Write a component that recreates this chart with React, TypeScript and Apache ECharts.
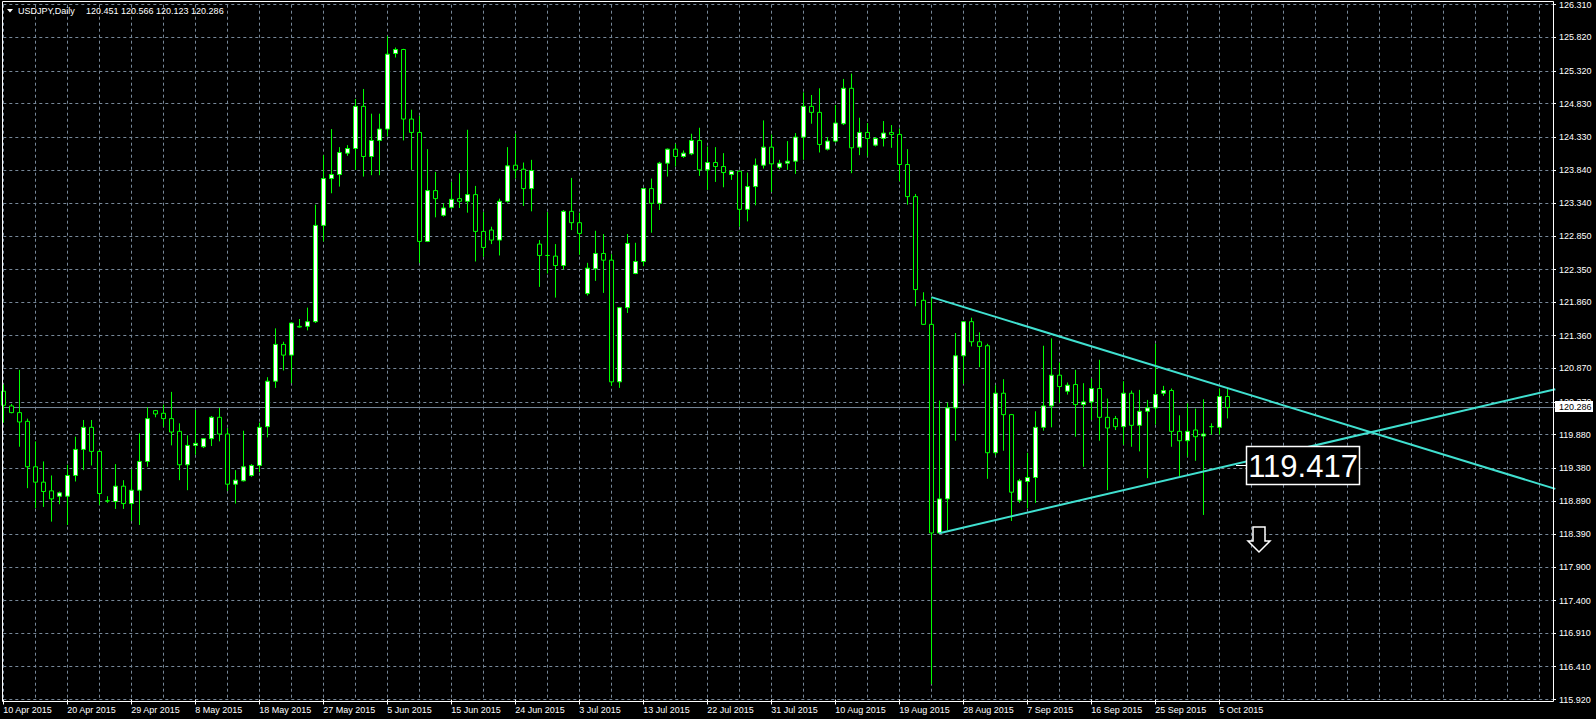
import React, { useEffect, useRef } from "react";
import * as echarts from "echarts";

// ---------- data ----------
const SYMBOL = "USDJPY,Daily";
const HEADER_OHLC = "120.451 120.566 120.123 120.286";
const FIRST_DATE = [2015, 3, 10]; // 10 Apr 2015 (bars Sun–Fri)
const SLOT_COUNT = 195; // bars + empty space to the right
const LAST_BAR = 153;

const OPEN = [
  120.53, 120.31, 120.21, 120.08, 119.40, 119.17, 119.04, 118.96, 118.96, 119.27,
  119.66, 119.99, 119.63, 118.89, 118.88, 119.11, 118.85, 119.05, 119.48, 120.24,
  120.20, 120.12, 119.93, 119.43, 119.72, 119.70, 119.82, 120.14, 119.89, 119.14,
  119.19, 119.27, 119.42, 120.00, 120.68, 121.23, 121.07, 121.50, 121.50, 121.57,
  123.01, 123.71, 123.77, 124.09, 124.16, 124.79, 124.04, 124.28, 124.45, 125.58,
  125.64, 124.60, 124.40, 122.77, 123.53, 123.16, 123.28, 123.41, 123.37, 123.47,
  122.92, 122.94, 122.79, 123.37, 123.91, 123.85, 123.56, 122.73, 122.56, 122.55,
  122.41, 123.22, 123.05, 121.99, 122.36, 122.59, 122.49, 120.67, 121.78, 122.29,
  122.47, 123.56, 123.34, 123.94, 124.15, 124.04, 124.08, 124.28, 123.84, 123.95,
  123.89, 123.77, 123.82, 123.25, 123.59, 123.91, 124.18, 123.88, 123.94, 123.97,
  124.33, 124.79, 124.70, 124.15, 124.27, 124.53, 125.06, 124.18, 124.40, 124.21,
  124.31, 124.40, 124.37, 123.92, 123.44, 121.89, 121.53, 118.41, 118.92, 120.28,
  121.06, 121.57, 121.27, 121.21, 119.61, 120.50, 120.18, 118.90, 119.18, 119.24,
  119.99, 120.31, 120.77, 120.53, 120.63, 120.33, 120.37, 120.57, 120.14, 120.12,
  120.00, 120.50, 120.02, 120.23, 120.28, 120.50, 120.54, 119.93, 119.79, 119.95,
  119.86, 120.00, 119.99, 120.451,
];
const HIGH = [
  120.63, 120.34, 120.85, 120.12, 119.78, 119.48, 119.27, 119.03, 119.43, 119.85,
  120.10, 120.10, 119.65, 118.96, 119.44, 119.20, 119.36, 119.90, 120.29, 120.25,
  120.33, 120.52, 120.05, 119.87, 120.25, 119.83, 120.16, 120.28, 119.98, 119.35,
  119.94, 119.44, 120.06, 120.74, 121.47, 121.27, 121.56, 121.61, 121.78, 123.32,
  124.06, 124.45, 124.18, 124.21, 124.90, 125.05, 124.68, 124.68, 125.84, 125.67,
  125.65, 124.74, 124.65, 124.15, 123.81, 123.34, 123.66, 123.79, 124.44, 123.60,
  123.21, 122.99, 123.41, 124.18, 124.38, 123.95, 123.99, 122.79, 123.21, 122.73,
  123.24, 123.72, 123.20, 122.45, 122.93, 122.88, 122.58, 121.79, 122.88, 122.75,
  123.56, 123.71, 123.96, 124.16, 124.23, 124.13, 124.38, 124.47, 124.19, 124.18,
  124.09, 123.83, 123.83, 123.80, 124.01, 124.58, 124.37, 123.99, 124.27, 124.39,
  125.00, 124.96, 125.06, 124.33, 124.81, 125.20, 125.28, 124.62, 124.54, 124.33,
  124.57, 124.51, 124.46, 124.15, 123.48, 122.01, 121.93, 120.39, 120.36, 121.40,
  121.58, 121.63, 121.41, 121.24, 120.62, 120.71, 120.19, 119.22, 119.61, 120.23,
  121.21, 121.32, 120.96, 120.66, 120.85, 120.65, 120.72, 121.00, 120.42, 120.16,
  120.68, 120.54, 120.55, 120.40, 121.24, 120.61, 120.57, 120.17, 120.35, 120.27,
  120.41, 120.05, 120.57, 120.566,
];
const LOW = [
  120.06, 120.20, 119.70, 119.08, 118.78, 118.80, 118.58, 118.84, 118.53, 119.18,
  119.35, 119.42, 118.83, 118.86, 118.77, 118.77, 118.59, 118.53, 119.40, 120.14,
  120.00, 119.72, 119.20, 119.05, 119.58, 119.68, 119.71, 119.78, 119.04, 118.85,
  119.18, 119.25, 119.32, 119.84, 120.58, 120.84, 120.65, 121.48, 121.44, 121.55,
  122.77, 123.49, 123.59, 124.05, 123.84, 123.74, 123.76, 123.76, 124.34, 125.52,
  124.28, 123.84, 122.45, 122.76, 123.13, 123.14, 123.26, 123.27, 123.20, 122.47,
  122.54, 122.73, 122.56, 123.35, 123.71, 123.30, 123.22, 122.09, 122.29, 121.93,
  122.35, 122.94, 122.57, 121.96, 122.18, 122.00, 120.61, 120.58, 121.70, 122.28,
  122.40, 122.90, 123.24, 123.74, 123.89, 124.02, 124.06, 123.75, 123.54, 123.66,
  123.58, 123.69, 122.99, 123.07, 123.31, 123.86, 123.51, 123.85, 123.84, 123.78,
  123.99, 124.53, 124.10, 124.13, 124.25, 124.51, 123.79, 124.06, 124.04, 124.19,
  124.19, 124.17, 123.67, 123.32, 121.80, 121.52, 116.15, 118.40, 118.45, 119.79,
  120.64, 121.20, 120.89, 119.22, 119.57, 119.64, 118.59, 118.86, 118.78, 118.86,
  119.94, 119.99, 120.36, 120.48, 119.85, 119.40, 120.10, 119.79, 119.05, 119.95,
  119.73, 119.70, 119.63, 119.23, 120.03, 120.46, 119.70, 119.26, 119.55, 119.49,
  118.68, 119.88, 119.88, 120.123,
];
const CLOSE = [
  120.32, 120.21, 120.07, 119.40, 119.17, 119.03, 118.92, 119.01, 119.27, 119.66,
  119.99, 119.63, 119.00, 118.89, 119.11, 118.85, 119.05, 119.48, 120.12, 120.19,
  120.12, 119.92, 119.43, 119.72, 119.75, 119.82, 120.14, 119.89, 119.14, 119.20,
  119.40, 119.42, 119.99, 120.68, 121.23, 121.07, 121.55, 121.49, 121.57, 123.01,
  123.71, 123.77, 124.10, 124.16, 124.79, 124.04, 124.28, 124.45, 125.57, 125.64,
  124.60, 124.40, 122.77, 123.53, 123.41, 123.27, 123.40, 123.37, 123.47, 122.92,
  122.68, 122.79, 123.37, 123.90, 123.84, 123.56, 123.83, 122.56, 122.56, 122.41,
  123.22, 123.05, 122.89, 122.37, 122.59, 122.49, 120.67, 121.78, 122.74, 122.47,
  123.56, 123.34, 123.94, 124.15, 124.04, 124.09, 124.28, 123.84, 123.95, 123.89,
  123.80, 123.82, 123.25, 123.59, 123.91, 124.18, 123.93, 123.94, 123.97, 124.33,
  124.79, 124.70, 124.22, 124.27, 124.54, 125.06, 124.17, 124.40, 124.31, 124.31,
  124.39, 124.37, 123.92, 123.44, 122.05, 121.53, 118.41, 118.92, 120.28, 121.06,
  121.57, 121.27, 121.20, 119.61, 120.50, 120.18, 119.02, 119.19, 119.24, 119.99,
  120.31, 120.77, 120.60, 120.62, 120.33, 120.37, 120.57, 120.14, 119.98, 120.00,
  120.50, 120.02, 120.23, 120.28, 120.48, 120.54, 119.93, 119.79, 119.93, 119.85,
  119.89, 120.00, 120.45, 120.286,
];

const Y_TICKS = [
  115.92, 116.41, 116.91, 117.4, 117.9, 118.39, 118.89, 119.38, 119.88, 120.37, 120.87,
  121.36, 121.86, 122.35, 122.85, 123.34, 123.84, 124.33, 124.83, 125.32, 125.82, 126.31,
];
const Y_MIN = 115.92;
const Y_MAX = 126.31;
const BID = 120.286;
const TREND_DOWN = [[116, 121.937], [194, 119.07]];
const TREND_UP = [[117, 118.407], [194, 120.56]];
const PRICE_TAG = "119.417";

const MONTHS = ["Jan", "Feb", "Mar", "Apr", "May", "Jun", "Jul", "Aug", "Sep", "Oct", "Nov", "Dec"];

function buildDates(n: number): string[] {
  const out: string[] = [];
  const d = new Date(Date.UTC(FIRST_DATE[0], FIRST_DATE[1], FIRST_DATE[2]));
  while (out.length < n) {
    if (d.getUTCDay() !== 6) {
      out.push(`${d.getUTCDate()} ${MONTHS[d.getUTCMonth()]} ${d.getUTCFullYear()}`);
    }
    d.setUTCDate(d.getUTCDate() + 1);
  }
  return out;
}

const FONT = '"Liberation Sans", Arial, sans-serif';
const GRID_COLOR = "#778899";
const CANDLE_GREEN = "#00ff00";
const TREND_COLOR = "#40e0d0";

export default function App() {
  const ref = useRef<HTMLDivElement>(null);

  useEffect(() => {
    if (!ref.current) return;
    const chart = echarts.init(ref.current, undefined, { renderer: "svg" });
    const dates = buildDates(SLOT_COUNT);
    const candles = OPEN.map((o, i) => [o, CLOSE[i], LOW[i], HIGH[i]]);
    const showLabel = (i: number) => i % 8 === 0 && i <= LAST_BAR;

    const option: any = {
      animation: false,
      backgroundColor: "#000000",
      textStyle: { fontFamily: FONT },
      grid: { left: 3.3, top: 4.7, width: 1552, height: 694.8, containLabel: false },
      xAxis: {
        type: "category",
        data: dates,
        boundaryGap: false,
        axisLine: { show: false },
        axisTick: {
          show: true,
          interval: (i: number) => showLabel(i),
          length: 5,
          lineStyle: { color: "#ffffff", width: 1 },
        },
        axisLabel: {
          interval: (i: number) => showLabel(i),
          color: "#ffffff",
          fontSize: 9,
          fontFamily: FONT,
          align: "left",
          margin: 6,
        },
        splitLine: {
          show: true,
          interval: 3,
          lineStyle: { color: GRID_COLOR, width: 1, type: [3, 3] },
        },
      },
      yAxis: {
        type: "value",
        position: "right",
        min: Y_MIN,
        max: Y_MAX,
        offset: -2.3,
        axisLine: { show: false },
        axisTick: {
          show: true,
          customValues: Y_TICKS,
          length: 3,
          lineStyle: { color: "#ffffff", width: 1 },
        },
        axisLabel: {
          customValues: Y_TICKS,
          formatter: (v: number) => v.toFixed(3),
          color: "#ffffff",
          fontSize: 9,
          fontFamily: FONT,
          margin: 6,
        },
        splitLine: {
          show: true,
          lineStyle: { color: GRID_COLOR, width: 1, type: [3, 3] },
        },
      },
      series: [
        {
          type: "line",
          name: "bid",
          data: [[0, BID], [SLOT_COUNT - 1, BID]],
          symbol: "none",
          silent: true,
          z: 1,
          lineStyle: { color: GRID_COLOR, width: 1 },
        },
        {
          type: "candlestick",
          name: "USDJPY",
          data: candles,
          barWidth: 5,
          z: 3,
          itemStyle: {
            color: "#ffffff",
            color0: "#000000",
            borderColor: CANDLE_GREEN,
            borderColor0: CANDLE_GREEN,
            borderColorDoji: CANDLE_GREEN,
            borderWidth: 1,
          },
        },
        {
          type: "line",
          name: "down",
          data: TREND_DOWN,
          symbol: "none",
          silent: true,
          z: 5,
          lineStyle: { color: TREND_COLOR, width: 2 },
        },
        {
          type: "line",
          name: "up",
          data: TREND_UP,
          symbol: "none",
          silent: true,
          z: 5,
          lineStyle: { color: TREND_COLOR, width: 2 },
        },
      ],
      graphic: [
        {
          type: "rect",
          z: 100,
          silent: true,
          shape: { x: 2.5, y: 1.5, width: 1551, height: 700 },
          style: { fill: "none", stroke: "#ffffff", lineWidth: 1 },
        },
        {
          type: "polygon",
          z: 100,
          silent: true,
          shape: { points: [[7, 9], [13, 9], [10, 12.5]] },
          style: { fill: "#ffffff" },
        },
        {
          type: "text",
          z: 100,
          silent: true,
          x: 18,
          y: 11,
          style: { text: SYMBOL, fill: "#ffffff", font: `9px ${FONT}`, verticalAlign: "middle" },
        },
        {
          type: "text",
          z: 100,
          silent: true,
          x: 86,
          y: 11,
          style: { text: HEADER_OHLC, fill: "#ffffff", font: `9px ${FONT}`, verticalAlign: "middle" },
        },
        {
          type: "rect",
          z: 100,
          silent: true,
          shape: { x: 1555, y: 401, width: 38, height: 11 },
          style: { fill: "#ffffff" },
        },
        {
          type: "text",
          z: 101,
          silent: true,
          x: 1559,
          y: 406.5,
          style: { text: BID.toFixed(3), fill: "#000000", font: `9px ${FONT}`, verticalAlign: "middle" },
        },
        {
          type: "line",
          z: 100,
          silent: true,
          shape: { x1: 1236, y1: 465.5, x2: 1247, y2: 465.5 },
          style: { stroke: "#ffffff", lineWidth: 1 },
        },
        {
          type: "rect",
          z: 100,
          silent: true,
          shape: { x: 1246.5, y: 446.5, width: 113, height: 38 },
          style: { fill: "#000000", stroke: "#ffffff", lineWidth: 1.5 },
        },
        {
          type: "text",
          z: 101,
          silent: true,
          x: 1303,
          y: 466,
          style: {
            text: PRICE_TAG,
            fill: "#ffffff",
            font: `31px ${FONT}`,
            align: "center",
            verticalAlign: "middle",
          },
        },
        {
          type: "polygon",
          z: 100,
          silent: true,
          shape: {
            points: [
              [1253, 527], [1265, 527], [1265, 541], [1270, 541],
              [1259, 552], [1248, 541], [1253, 541],
            ],
          },
          style: { fill: "#000000", stroke: "#ffffff", lineWidth: 1.5 },
        },
      ],
    };

    chart.setOption(option);
    return () => chart.dispose();
  }, []);

  return (
    <div
      ref={ref}
      style={{ position: "absolute", left: 0, top: 0, width: 1596, height: 719, background: "#000" }}
    />
  );
}
